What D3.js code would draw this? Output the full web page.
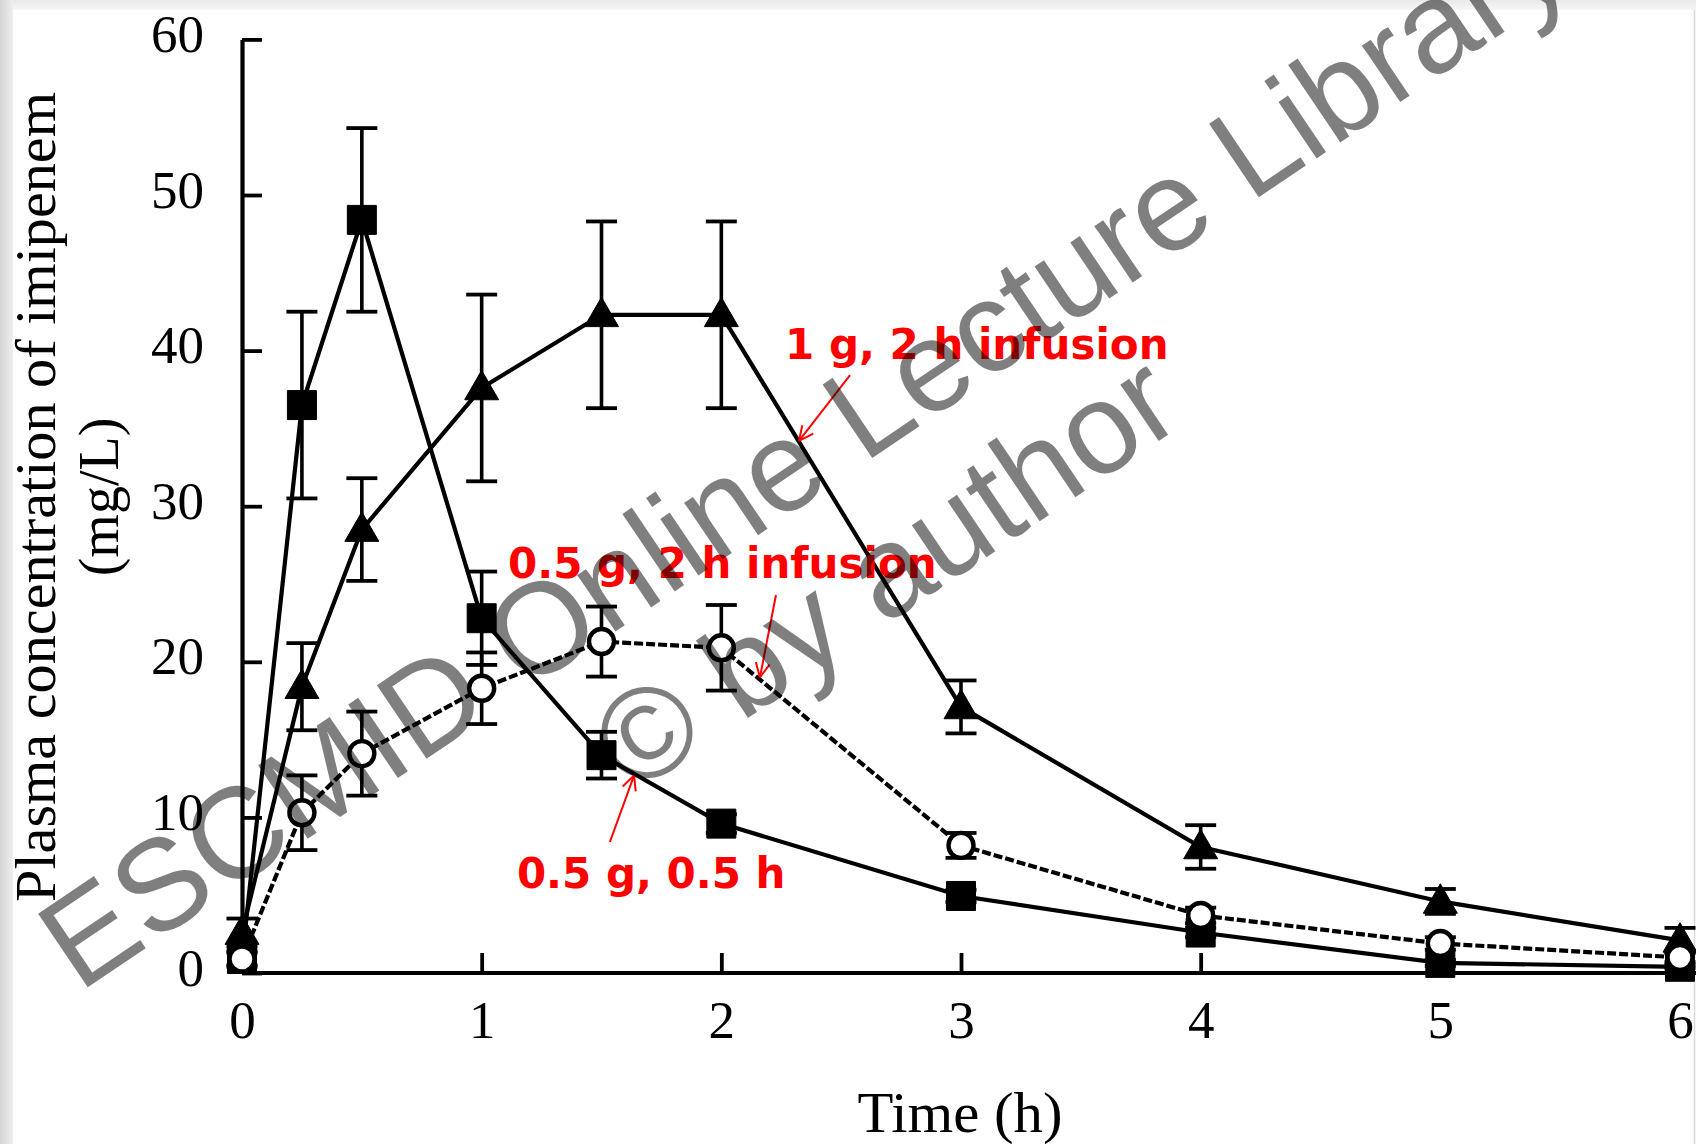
<!DOCTYPE html>
<html>
<head>
<meta charset="utf-8">
<script src="https://cdn.jsdelivr.net/npm/d3@7"></script>
<style>
  html, body { margin: 0; padding: 0; background: #fff; }
  svg { display: block; }
</style>
</head>
<body>
<script>
// Sampling times (h)
const times = [0, 0.25, 0.5, 1, 1.5, 2, 3, 4, 5, 6];

// 0.5 g given over 0.5 h (filled squares)
const dose05Short = [0.9, 36.5, 48.4, 22.8, 14.0, 9.6, 4.95, 2.6, 0.65, 0.4];
const dose05ShortSd = [0.5, 6.0, 5.9, 3.0, 1.5, 0.6, 0.4, 0.3, 0.2, 0.1];

// 1 g given as a 2 h infusion (filled triangles)
const dose1Infusion = [2.6, 18.4, 28.5, 37.6, 42.3, 42.3, 17.1, 8.1, 4.6, 2.1];
const dose1InfusionSd = [0.9, 2.8, 3.3, 6.0, 6.0, 6.0, 1.7, 1.4, 0.8, 0.8];

// 0.5 g given as a 2 h infusion (open circles)
const dose05Infusion = [0.9, 10.3, 14.1, 18.3, 21.3, 20.9, 8.2, 3.7, 1.9, 1.0];
const dose05InfusionSd = [0.4, 2.4, 2.7, 2.3, 2.25, 2.75, 0.8, 0.5, 0.4, 0.3];

// Axis ticks
const xTicks = [0, 1, 2, 3, 4, 5, 6];
const yTicks = [0, 10, 20, 30, 40, 50, 60];

// Annotations: label anchor (t, conc) and arrow from -> to, in data units
const notes = [
  { text: "1 g, 2 h infusion",   at: [2.266, 39.46], from: [2.537, 38.43], to: [2.324, 34.2] },
  { text: "0.5 g, 2 h infusion", at: [1.110, 25.39], from: [2.228, 24.29], to: [2.161, 19.0] },
  { text: "0.5 g, 0.5 h",        at: [1.147, 5.46],  from: [1.535, 8.42],  to: [1.636, 12.7] }
];

const W = 1696, H = 1144;
const svg = d3.select("body").append("svg").attr("width", W).attr("height", H);
const defs = svg.append("defs");

// page background with the soft grey frame at the top and left
svg.append("rect").attr("width", W).attr("height", H).attr("fill", "#ffffff");
const gTop = defs.append("linearGradient").attr("id", "bandTop").attr("x1", 0).attr("y1", 0).attr("x2", 0).attr("y2", 1);
gTop.append("stop").attr("offset", "0%").attr("stop-color", "#e9e9e9");
gTop.append("stop").attr("offset", "100%").attr("stop-color", "#f7f7f7");
const gLeft = defs.append("linearGradient").attr("id", "bandLeft").attr("x1", 0).attr("y1", 0).attr("x2", 1).attr("y2", 0);
gLeft.append("stop").attr("offset", "0%").attr("stop-color", "#d4d4d4");
gLeft.append("stop").attr("offset", "100%").attr("stop-color", "#eeeeee");
svg.append("rect").attr("x", 0).attr("y", 0).attr("width", W).attr("height", 10).attr("fill", "url(#bandTop)");
svg.append("rect").attr("x", 0).attr("y", 0).attr("width", 13).attr("height", H).attr("fill", "url(#bandLeft)");
svg.append("line").attr("x1", W - 1.5).attr("x2", W - 1.5).attr("y1", 10).attr("y2", H)
  .attr("stroke", "#d8d8d8").attr("stroke-width", 1.5);

// scales
const x = d3.scaleLinear().domain([0, 6]).range([242, 1680]);
const y = d3.scaleLinear().domain([0, 60]).range([973, 39.4]);

const serif = "'Liberation Serif', 'Times New Roman', serif";

// y axis (ticks point inward)
const yAxis = svg.append("g").attr("transform", `translate(${x(0)},0)`)
  .call(d3.axisLeft(y).tickValues(yTicks).tickSizeInner(-20).tickSizeOuter(0).tickPadding(40).tickFormat(d3.format("d")));
yAxis.select(".domain").attr("stroke", "#000").attr("stroke-width", 4.2);
yAxis.selectAll(".tick line").attr("stroke", "#000").attr("stroke-width", 3.8);
yAxis.selectAll(".tick text").attr("fill", "#000").attr("font-family", serif).attr("font-size", 53)
  .attr("dy", 12).attr("x", -38);

// x axis (ticks point inward)
const xAxis = svg.append("g").attr("transform", `translate(0,${y(0)})`)
  .call(d3.axisBottom(x).tickValues(xTicks).tickSizeInner(-20).tickSizeOuter(0).tickFormat(d3.format("d")));
xAxis.select(".domain").remove();
xAxis.selectAll(".tick line").attr("stroke", "#000").attr("stroke-width", 3.8);
xAxis.selectAll(".tick text").attr("fill", "#000").attr("font-family", serif).attr("font-size", 53)
  .attr("y", 65).attr("dy", 0);
xAxis.append("line").attr("x1", x(0)).attr("x2", W).attr("y1", 0).attr("y2", 0)
  .attr("stroke", "#000").attr("stroke-width", 4.2);

// axis titles
svg.append("text").attr("transform", `translate(55,497) rotate(-90)`)
  .attr("text-anchor", "middle").attr("font-family", serif).attr("font-size", 58)
  .attr("textLength", 810).attr("lengthAdjust", "spacingAndGlyphs")
  .text("Plasma concentration of imipenem");
svg.append("text").attr("transform", `translate(118,497) rotate(-90)`)
  .attr("text-anchor", "middle").attr("font-family", serif).attr("font-size", 56)
  .text("(mg/L)");
svg.append("text").attr("x", 960).attr("y", 1132)
  .attr("text-anchor", "middle").attr("font-family", serif).attr("font-size", 56)
  .attr("textLength", 205).attr("lengthAdjust", "spacingAndGlyphs")
  .text("Time (h)");

// series drawing
function drawSeries(values, sds, shape, dashed) {
  const pts = times.map((t, i) => ({ t, v: values[i], sd: sds[i] }));
  const g = svg.append("g");
  g.append("path").datum(pts)
    .attr("d", d3.line().x(d => x(d.t)).y(d => y(d.v)))
    .attr("fill", "none").attr("stroke", "#000").attr("stroke-width", 4.2)
    .attr("stroke-dasharray", dashed ? "9,3" : null);
  const eb = g.selectAll(".eb").data(pts).enter().append("g");
  eb.append("line").attr("x1", d => x(d.t)).attr("x2", d => x(d.t))
    .attr("y1", d => y(d.v + d.sd)).attr("y2", d => y(d.v - d.sd))
    .attr("stroke", "#000").attr("stroke-width", 3.6);
  [1, -1].forEach(s => {
    eb.append("line").attr("x1", d => x(d.t) - 15.5).attr("x2", d => x(d.t) + 15.5)
      .attr("y1", d => y(d.v + s * d.sd)).attr("y2", d => y(d.v + s * d.sd))
      .attr("stroke", "#000").attr("stroke-width", 3.8);
  });
  const sym = d3.symbol().type(shape === "square" ? d3.symbolSquare
                               : shape === "triangle" ? d3.symbolTriangle : d3.symbolCircle)
    .size(shape === "square" ? 29 * 29 : shape === "triangle" ? 500 : Math.PI * 12.5 * 12.5);
  g.selectAll(".pt").data(pts).enter().append("path")
    .attr("transform", d => `translate(${x(d.t)},${y(d.v) + (shape === "triangle" ? 2 : 0)})`)
    .attr("d", sym)
    .attr("fill", shape === "circle" ? "#fff" : "#000")
    .attr("stroke", "#000").attr("stroke-width", shape === "circle" ? 4.4 : 1);
}

drawSeries(dose1Infusion, dose1InfusionSd, "triangle", false);
drawSeries(dose05Short, dose05ShortSd, "square", false);
drawSeries(dose05Infusion, dose05InfusionSd, "circle", true);

// red annotations with open arrowheads
const red = "#ff0000";
const ann = svg.append("g");
notes.forEach(n => {
  ann.append("text").attr("x", x(n.at[0])).attr("y", y(n.at[1]))
    .attr("font-family", "'DejaVu Sans', Verdana, sans-serif").attr("font-weight", "bold")
    .attr("font-size", 42).attr("fill", red).text(n.text);
  const x1 = x(n.from[0]), y1 = y(n.from[1]), x2 = x(n.to[0]), y2 = y(n.to[1]);
  ann.append("line").attr("x1", x1).attr("y1", y1).attr("x2", x2).attr("y2", y2)
    .attr("stroke", red).attr("stroke-width", 2);
  const ang = Math.atan2(y1 - y2, x1 - x2), len = 16, spread = 0.45;
  [spread, -spread].forEach(s => {
    ann.append("line").attr("x1", x2).attr("y1", y2)
      .attr("x2", x2 + len * Math.cos(ang + s)).attr("y2", y2 + len * Math.sin(ang + s))
      .attr("stroke", red).attr("stroke-width", 2);
  });
});

// copyright watermark across the chart
const wm = svg.append("g").attr("transform", "translate(828,488) rotate(-34)")
  .attr("font-family", "'Liberation Sans', Arial, sans-serif").attr("font-size", 129)
  .attr("fill", "rgba(0,0,0,0.5)").attr("text-anchor", "middle");
wm.append("text").attr("x", 0).attr("y", 0).text("ESCMID Online Lecture Library");
wm.append("text").attr("x", 0).attr("y", 146).text("© by author");
</script>
</body>
</html>
